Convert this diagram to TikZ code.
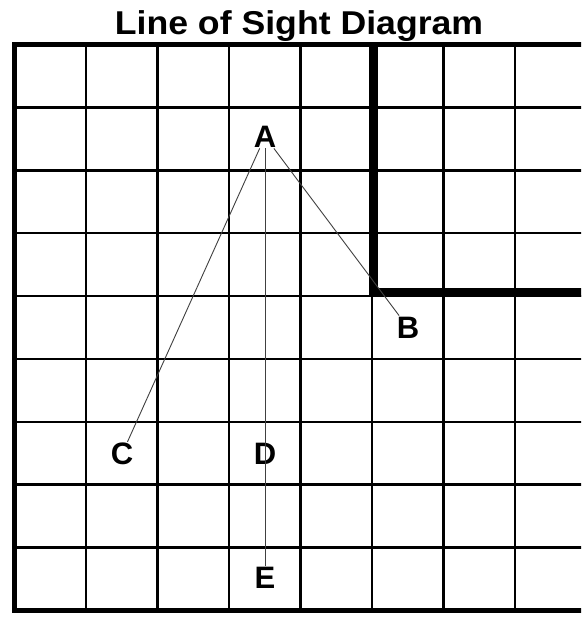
\documentclass[tikz,border=0pt]{standalone}
\usepackage{fontspec}
\setmainfont{Liberation Sans}
\begin{document}
\begin{tikzpicture}[x=1pt,y=-1pt,
  gridline/.style={line width=2.6pt,black},
  border/.style={line width=4.6pt,black},
  wall/.style={line width=9pt,black,line join=miter},
  sight/.style={line width=0.9pt,black!75},
  lbl/.style={font=\fontsize{31}{31}\selectfont\bfseries, inner sep=1pt},
  ttl/.style={font=\fontsize{33}{33}\selectfont\bfseries, inner sep=0pt, anchor=base}]
\useasboundingbox (0,0) rectangle (581,618);
\fill[white] (0,0) rectangle (581,618);
\begin{scope}
\clip (0,0) rectangle (581,618);
\foreach \k in {1,...,7} \draw[gridline] ({14.5+71.5*\k},44.5) -- ({14.5+71.5*\k},610.5);
\foreach \k in {1,...,8} \draw[gridline] (14.5,{44.5+62.89*\k}) -- (590,{44.5+62.89*\k});
\draw[border] (14.5,44.5) rectangle (586.5,610.5);
\draw[wall] (373.5,44.5) -- (373.5,292.5) -- (590,292.5);
\end{scope}
\node[ttl] (title) at (299,35) {\scalebox{1.08}[1]{Line of Sight Diagram}};
\node[lbl] (A) at (265,136.5) {A};
\node[lbl] (B) at (408,327.5) {B};
\node[lbl] (C) at (122,454) {C};
\node[lbl] (D) at (265,454) {D};
\node[lbl] (E) at (265,578) {E};
\draw[sight] (A) -- (C);
\draw[sight] (A) -- (B);
\draw[sight] (A) -- (E);
\end{tikzpicture}
\end{document}
